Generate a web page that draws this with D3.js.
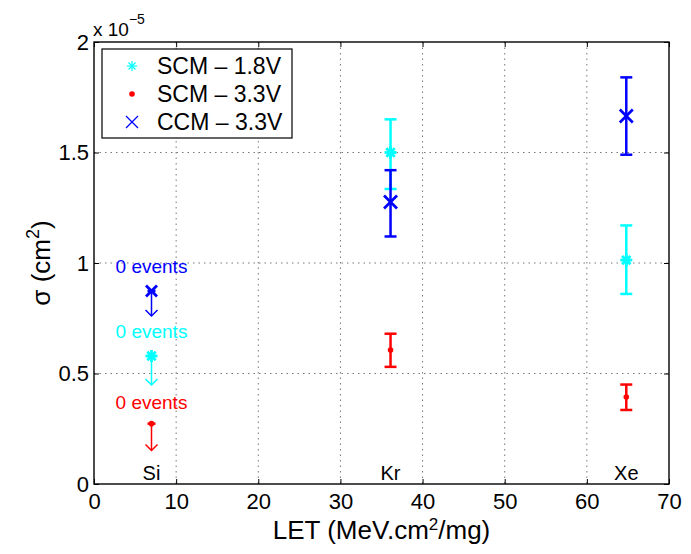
<!DOCTYPE html>
<html>
<head>
<meta charset="utf-8">
<script src="https://cdn.jsdelivr.net/npm/d3@7"></script>
<style>
body { margin: 0; background: #fff; }
text { font-family: "Liberation Sans", Arial, sans-serif; }
.axis text { font-size: 22px; fill: #000; }
.axis path, .axis line { stroke: #000; }
.grid line { stroke: #777; stroke-dasharray: 1.5,4; }
</style>
</head>
<body>
<script>
// Data (sigma in units of 1e-5 cm^2)
const ions = ["Si", "Kr", "Xe"];
const ionLET = [7, 36.1, 64.8];

const seriesNames = ["SCM \u2013 1.8V", "SCM \u2013 3.3V", "CCM \u2013 3.3V"];
const seriesColors = ["#00ffff", "#ff0000", "#0000ff"];

// Kr and Xe measured points with error bars
const scm18 = [{let: 36.1, y: 1.50, lo: 1.335, hi: 1.65}, {let: 64.8, y: 1.013, lo: 0.86, hi: 1.17}];
const scm33 = [{let: 36.1, y: 0.606, lo: 0.53, hi: 0.68}, {let: 64.8, y: 0.394, lo: 0.335, hi: 0.45}];
const ccm33 = [{let: 36.1, y: 1.276, lo: 1.12, hi: 1.42}, {let: 64.8, y: 1.665, lo: 1.49, hi: 1.84}];

// Si upper limits (0 events), arrow down to lo
const siLimits = [
  {series: 2, let: 7, y: 0.873, lo: 0.76, labelY: 0.955},
  {series: 0, let: 7, y: 0.579, lo: 0.448, labelY: 0.66},
  {series: 1, let: 7, y: 0.273, lo: 0.152, labelY: 0.34}
];

const xTicks = [0, 10, 20, 30, 40, 50, 60, 70];
const yTicks = [0, 0.5, 1, 1.5, 2];

const width = 691, height = 554;
const mLeft = 94, mRight = 669, mTop = 42, mBottom = 484;

const svg = d3.select("body").append("svg")
  .attr("width", width).attr("height", height);

const x = d3.scaleLinear().domain([0, 70]).range([mLeft, mRight]);
const y = d3.scaleLinear().domain([0, 2]).range([mBottom, mTop]);

// grid
const grid = svg.append("g").attr("class", "grid");
grid.selectAll(".gx").data(xTicks.slice(1, -1)).enter().append("line")
  .attr("x1", d => x(d)).attr("x2", d => x(d)).attr("y1", mTop).attr("y2", mBottom);
grid.selectAll(".gy").data(yTicks.slice(1, -1)).enter().append("line")
  .attr("y1", d => y(d)).attr("y2", d => y(d)).attr("x1", mLeft).attr("x2", mRight);

// axes (ticks inside, MATLAB style)
svg.append("g").attr("class", "axis")
  .attr("transform", "translate(0," + mBottom + ")")
  .call(d3.axisBottom(x).tickValues(xTicks).tickSizeInner(-5).tickSizeOuter(0).tickPadding(9))
  .call(g => g.select(".domain").remove());
svg.append("g").attr("class", "axis")
  .attr("transform", "translate(" + mLeft + ",0)")
  .call(d3.axisLeft(y).tickValues(yTicks).tickSizeInner(-5).tickSizeOuter(0).tickPadding(5).tickFormat(d3.format("")))
  .call(g => g.select(".domain").remove());
svg.append("g").attr("class", "axis")
  .attr("transform", "translate(0," + mTop + ")")
  .call(d3.axisTop(x).tickValues(xTicks).tickSizeInner(-5).tickSizeOuter(0).tickFormat(""))
  .call(g => g.select(".domain").remove());
svg.append("g").attr("class", "axis")
  .attr("transform", "translate(" + mRight + ",0)")
  .call(d3.axisRight(y).tickValues(yTicks).tickSizeInner(-5).tickSizeOuter(0).tickFormat(""))
  .call(g => g.select(".domain").remove());

svg.append("rect").attr("x", mLeft).attr("y", mTop)
  .attr("width", mRight - mLeft).attr("height", mBottom - mTop)
  .attr("fill", "none").attr("stroke", "#000").attr("stroke-width", 1.4);

// exponent label
const exp = svg.append("text").attr("x", mLeft - 1).attr("y", mTop - 6).attr("font-size", 19);
exp.append("tspan").text("x 10");
exp.append("tspan").attr("dy", -12).attr("font-size", 14).text("\u22125");

// axis labels
const xl = svg.append("text").attr("x", (mLeft + mRight) / 2).attr("y", 539)
  .attr("text-anchor", "middle").attr("font-size", 26);
xl.append("tspan").text("LET (MeV.cm");
xl.append("tspan").attr("dy", -9).attr("font-size", 17).text("2");
xl.append("tspan").attr("dy", 9).text("/mg)");

const yl = svg.append("text").attr("transform", "translate(50," + ((mTop + mBottom) / 2) + ") rotate(-90)")
  .attr("text-anchor", "middle").attr("font-size", 26);
yl.append("tspan").text("\u03c3 (cm");
yl.append("tspan").attr("dy", -11).attr("font-size", 18).text("2");
yl.append("tspan").attr("dy", 11).text(")");

// marker drawing
function marker(g, type, cx, cy, color, s, w) {
  if (type === 0) { // asterisk
    const r = s;
    [[-r, 0, r, 0], [0, -r, 0, r], [-r * 0.7, -r * 0.7, r * 0.7, r * 0.7], [-r * 0.7, r * 0.7, r * 0.7, -r * 0.7]].forEach(p => {
      g.append("line").attr("x1", cx + p[0]).attr("y1", cy + p[1]).attr("x2", cx + p[2]).attr("y2", cy + p[3])
        .attr("stroke", color).attr("stroke-width", w);
    });
  } else if (type === 1) { // dot
    g.append("circle").attr("cx", cx).attr("cy", cy).attr("r", 2.8).attr("fill", color);
  } else { // x
    const r = s;
    [[-r, -r, r, r], [-r, r, r, -r]].forEach(p => {
      g.append("line").attr("x1", cx + p[0]).attr("y1", cy + p[1]).attr("x2", cx + p[2]).attr("y2", cy + p[3])
        .attr("stroke", color).attr("stroke-width", w);
    });
  }
}

const plot = svg.append("g");
const capW = 6;

function errorBars(data, idx) {
  const c = seriesColors[idx];
  data.forEach(d => {
    const px = x(d.let);
    plot.append("line").attr("x1", px).attr("x2", px).attr("y1", y(d.lo)).attr("y2", y(d.hi))
      .attr("stroke", c).attr("stroke-width", 2.5);
    [d.lo, d.hi].forEach(v => plot.append("line").attr("x1", px - capW).attr("x2", px + capW)
      .attr("y1", y(v)).attr("y2", y(v)).attr("stroke", c).attr("stroke-width", 2.5));
    marker(plot, idx, px, y(d.y), c, idx === 2 ? 6.5 : 6, 2.8);
  });
}
errorBars(scm18, 0);
errorBars(ccm33, 2);
errorBars(scm33, 1);

// Si upper limits
siLimits.forEach(d => {
  const c = seriesColors[d.series];
  const px = x(d.let), py = y(d.y), pl = y(d.lo);
  plot.append("line").attr("x1", px).attr("x2", px).attr("y1", py).attr("y2", pl)
    .attr("stroke", c).attr("stroke-width", 1.5);
  plot.append("line").attr("x1", px - 4).attr("x2", px + 4).attr("y1", py).attr("y2", py)
    .attr("stroke", c).attr("stroke-width", 2.5);
  plot.append("path").attr("d", `M${px - 6},${pl - 6}L${px},${pl}L${px + 6},${pl - 6}`)
    .attr("fill", "none").attr("stroke", c).attr("stroke-width", 1.5);
  marker(plot, d.series, px, py, c, d.series === 2 ? 5.5 : 6, 2.8);
  plot.append("text").attr("x", px).attr("y", y(d.labelY))
    .attr("text-anchor", "middle").attr("font-size", 19).attr("fill", c).text("0 events");
});

// ion labels
plot.selectAll(".ion").data(ions).enter().append("text")
  .attr("x", (d, i) => x(ionLET[i])).attr("y", mBottom - 4)
  .attr("text-anchor", "middle").attr("font-size", 20).text(d => d);

// legend
const lg = svg.append("g");
lg.append("rect").attr("x", 102).attr("y", 49).attr("width", 190).attr("height", 89)
  .attr("fill", "#fff").attr("stroke", "#000").attr("stroke-width", 1.2);
seriesNames.forEach((n, i) => {
  const ly = 66 + i * 28;
  marker(lg, i, 132, ly, seriesColors[i], i === 2 ? 6 : 5, 1.2);
  lg.append("text").attr("x", 157).attr("y", ly + 8).attr("font-size", 23).text(n);
});
</script>
</body>
</html>
